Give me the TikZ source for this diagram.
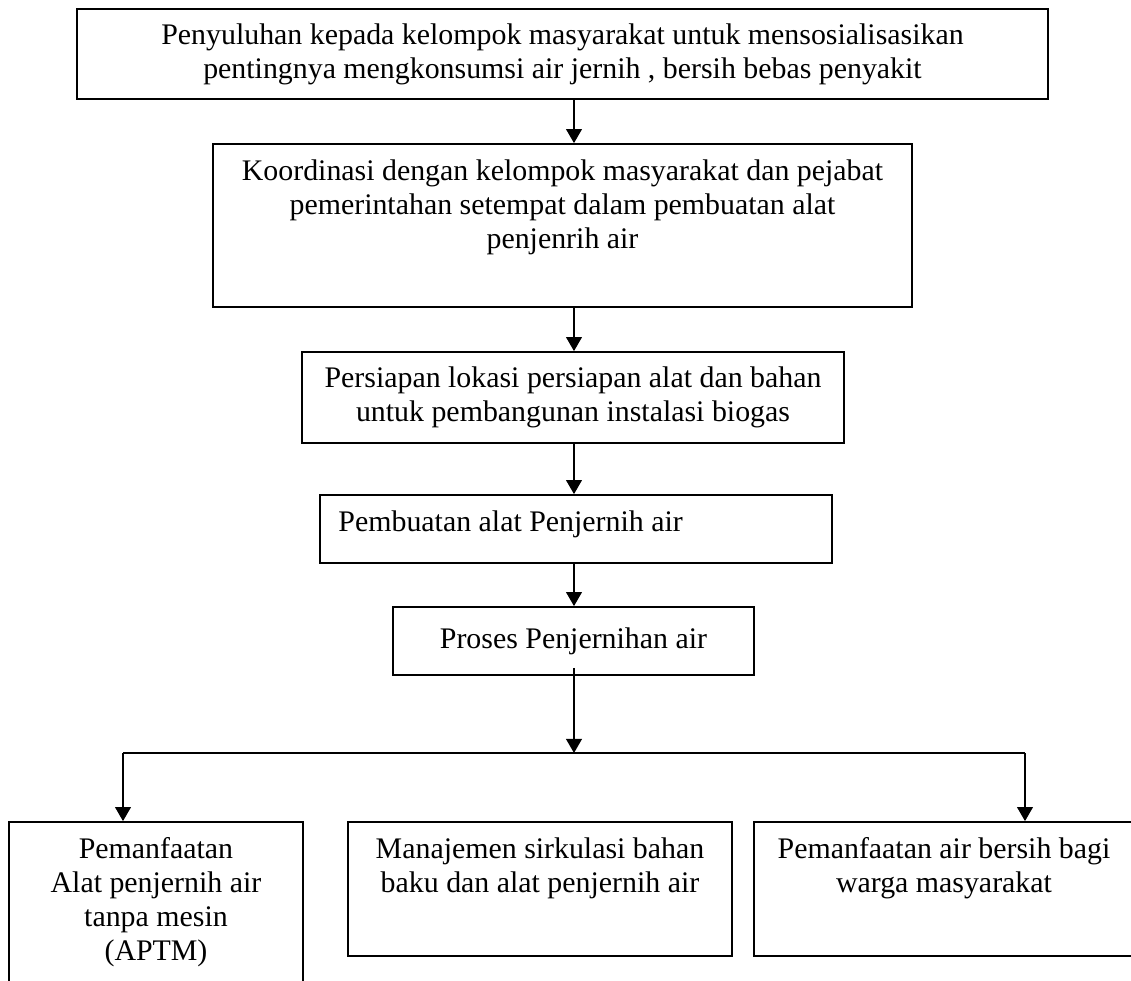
\documentclass[tikz,border=0pt]{standalone}
\usepackage{fontspec}
\setmainfont{Liberation Serif}
\usetikzlibrary{positioning,arrows.meta}

\begin{document}
\begin{tikzpicture}[
    box/.style={draw,line width=1pt,inner sep=0pt,align=center},
    lbl/.style={inner sep=0pt,align=center},
    arr/.style={line width=0.8pt,-{Triangle[width=9pt,length=8pt]}},
    every node/.style={font=\fontsize{17}{19.3}\selectfont}]
        \useasboundingbox (0,0) rectangle (22.62,19.62);
        \clip (0,0) rectangle (22.62,19.62);

        \node[box,minimum width=19.42cm,minimum height=1.80cm] (b1) at (11.25,18.54){Penyuluhan kepada kelompok masyarakat untuk mensosialisasikan\\pentingnya mengkonsumsi air jernih , bersih bebas penyakit};
        \node[box,minimum width=13.98cm,minimum height=3.26cm] (b2) at (11.25,15.11){};
        \node[box,minimum width=10.84cm,minimum height=1.82cm] (b3) at (11.46,11.67){Persiapan lokasi persiapan alat dan bahan\\untuk pembangunan instalasi biogas};
        \node[box,minimum width=10.24cm,minimum height=1.36cm] (b4) at (11.52,9.04){};
        \node[box,minimum width=7.22cm,minimum height=1.36cm] (b5) at (11.47,6.80){Proses Penjernihan air};
        \node[box,minimum width=5.88cm,minimum height=3.68cm] (bl) at (3.12,1.34){};
        \node[box,minimum width=7.68cm,minimum height=2.68cm] (bm) at (10.80,1.84){};
        \node[box,minimum width=7.60cm,minimum height=2.68cm] (br) at (18.88,1.84){};

        \node[lbl,below=0.32cm of b2.north] (t2) {Koordinasi dengan kelompok masyarakat dan pejabat\\pemerintahan setempat dalam pembuatan alat\\penjenrih air};
        \node[lbl,anchor=west] (t4) at ([xshift=0.38cm,yshift=0.1cm]b4.west) {Pembuatan alat Penjernih air};
        \node[lbl,below=0.32cm of bl.north] (tl) {Pemanfaatan\\Alat penjernih air\\tanpa mesin\\(APTM)};
        \node[lbl,below=0.32cm of bm.north] (tm) {Manajemen sirkulasi bahan\\baku dan alat penjernih air};
        \node[lbl,below=0.32cm of br.north] (tr) {Pemanfaatan air bersih bagi\\warga masyarakat};

        \coordinate (split) at (11.48,4.56);
        \coordinate (sl) at (2.46,4.56);
        \coordinate (sr) at (20.50,4.56);

        \draw[arr] (split |- b1.south) -- (split |- b2.north);
        \draw[arr] (split |- b2.south) -- (split |- b3.north);
        \draw[arr] (split |- b3.south) -- (split |- b4.north);
        \draw[arr] (split |- b4.south) -- (split |- b5.north);
        \draw[arr] ([yshift=0.16cm]b5.south -| split) -- (split);
        \draw[line width=0.8pt] (sl) -- (sr);
        \draw[arr] (sl) -- (sl |- bl.north);
        \draw[arr] (sr) -- (sr |- br.north);
    \end{tikzpicture}
\end{document}
